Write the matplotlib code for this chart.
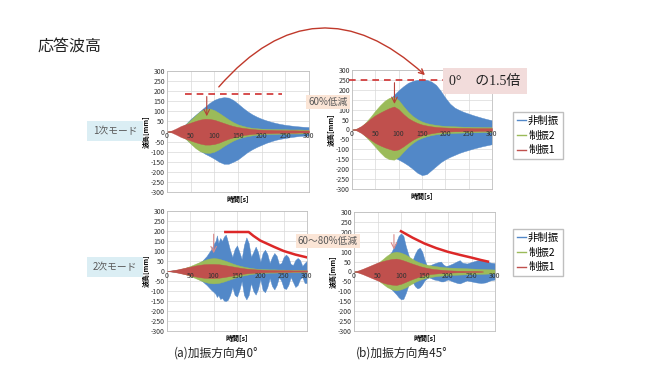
import matplotlib
matplotlib.use("Agg")
import matplotlib.pyplot as plt
from matplotlib.lines import Line2D
from matplotlib.patches import FancyArrowPatch

plt.rcParams['font.family'] = ['Noto Sans CJK JP', 'DejaVu Sans']

BLUE = '#5288c8'
GREEN = '#9bbb59'
RED = '#c0504d'
LINE_RED = '#dc2828'

# time grid (s) for the smooth envelopes
t10 = [0, 10, 20, 30, 40, 50, 60, 70, 80, 90, 100, 110, 120, 130, 140, 150,
       160, 170, 180, 190, 200, 210, 220, 230, 240, 250, 260, 270, 280, 290, 300]

# ---- 1次モード, 0deg ----
m1a_blue_up = [0, 3, 8, 18, 38, 62, 82, 102, 122, 142, 157, 166, 170, 168, 156, 138,
               118, 100, 85, 73, 63, 55, 48, 42, 37, 33, 30, 27, 25, 23, 22]
m1a_blue_lo = [0, -3, -8, -18, -36, -58, -78, -95, -110, -122, -135, -150, -160, -160, -150, -138,
               -120, -102, -88, -76, -66, -56, -48, -41, -36, -32, -28, -25, -22, -21, -20]
m1a_green_up = [0, 3, 10, 22, 36, 58, 80, 100, 112, 114, 106, 92, 76, 60, 46, 35,
                28, 22, 18, 16, 14, 13, 12, 12, 11, 11, 10, 10, 10, 9, 9]
m1a_green_lo = [0, -3, -10, -22, -38, -60, -82, -98, -105, -106, -100, -88, -72, -58, -45, -35,
                -28, -23, -19, -16, -14, -13, -12, -12, -11, -11, -10, -10, -10, -9, -9]
m1a_red_up = [0, 5, 16, 28, 36, 44, 52, 59, 63, 62, 58, 50, 42, 34, 27, 22,
              18, 15, 12, 10, 9, 8, 8, 7, 7, 6, 6, 6, 5, 5, 5]
m1a_red_lo = [0, -5, -16, -28, -36, -45, -53, -60, -65, -65, -62, -55, -45, -36, -29, -23,
              -18, -15, -12, -10, -9, -8, -8, -7, -7, -6, -6, -6, -5, -5, -5]

# ---- 1次モード, 45deg ----
m1b_blue_up = [0, 3, 12, 28, 50, 75, 100, 125, 150, 175, 198, 218, 235, 245, 250, 252,
               250, 242, 225, 195, 160, 130, 110, 98, 88, 80, 72, 65, 58, 52, 46]
m1b_blue_lo = [0, -3, -12, -28, -48, -70, -90, -108, -125, -140, -152, -165, -180, -198, -218, -230,
               -225, -205, -185, -165, -150, -138, -128, -118, -110, -103, -96, -90, -84, -79, -74]
m1b_green_up = [0, 4, 15, 38, 65, 95, 122, 145, 160, 165, 148, 118, 90, 68, 52, 40,
                32, 27, 23, 20, 18, 17, 16, 15, 14, 14, 13, 13, 12, 12, 12]
m1b_green_lo = [0, -4, -15, -38, -62, -88, -115, -138, -150, -152, -138, -112, -88, -68, -52, -42,
                -34, -28, -24, -21, -19, -18, -17, -16, -15, -15, -14, -14, -13, -13, -13]
m1b_red_up = [0, 5, 18, 35, 55, 72, 85, 97, 108, 116, 102, 78, 58, 44, 33, 25,
              20, 16, 13, 11, 10, 9, 9, 8, 8, 8, 7, 7, 7, 7, 7]
m1b_red_lo = [0, -5, -18, -35, -52, -68, -80, -90, -98, -105, -100, -85, -68, -52, -40, -30,
              -24, -19, -15, -13, -11, -10, -9, -9, -8, -8, -8, -7, -7, -7, -7]

# ---- 2次モード, 0deg ----
m2a_blue_t = [0, 20, 40, 60, 75, 85, 95, 100, 104, 107, 110, 114, 118, 122, 126, 130, 135, 140,
              145, 150, 155, 160, 165, 170, 175, 180, 185, 190, 195, 200, 205, 210, 215, 220,
              225, 230, 235, 240, 245, 250, 255, 260, 265, 270, 275, 280, 285, 290, 295, 300]
m2a_blue_up = [0, 5, 12, 28, 50, 75, 110, 135, 150, 178, 140, 165, 150, 172, 182, 150, 105, 70,
               110, 128, 95, 60, 130, 168, 140, 70, 95, 122, 95, 45, 90, 106, 85, 40,
               70, 90, 75, 35, 40, 70, 82, 70, 35, 30, 55, 65, 55, 25, 40, 52]
m2a_blue_lo = [0, -5, -12, -28, -50, -70, -95, -105, -115, -130, -120, -140, -135, -148, -150, -145, -120, -80,
               -120, -128, -95, -50, -120, -142, -120, -60, -100, -118, -90, -40, -95, -106, -80, -35,
               -75, -92, -70, -30, -50, -85, -90, -70, -30, -55, -80, -70, -40, -30, -60, -60]
m2a_green_up = [0, 2, 5, 10, 17, 25, 35, 45, 55, 62, 65, 62, 55, 47, 38, 30,
                24, 19, 15, 12, 10, 9, 8, 8, 7, 7, 6, 6, 6, 5, 5]
m2a_green_lo = [0, -2, -5, -10, -17, -25, -35, -45, -54, -60, -62, -60, -54, -46, -38, -30,
                -24, -19, -15, -12, -10, -9, -8, -8, -7, -7, -6, -6, -6, -5, -5]
m2a_red_up = [0, 3, 7, 12, 17, 22, 27, 31, 34, 35, 35, 34, 31, 27, 23, 19,
              15, 12, 10, 8, 7, 6, 5, 5, 4, 4, 4, 3, 3, 3, 3]
m2a_red_lo = [0, -3, -7, -12, -17, -22, -27, -31, -34, -35, -35, -34, -31, -27, -23, -19,
              -15, -12, -10, -8, -7, -6, -5, -5, -4, -4, -4, -3, -3, -3, -3]
m2a_peak_t = [125, 175, 185, 200, 215, 230, 250, 275, 300]
m2a_peak_v = [195, 195, 176, 152, 136, 120, 100, 82, 68]

# ---- 2次モード, 45deg ----
m2b_blue_t = [0, 25, 50, 60, 70, 80, 90, 95, 100, 105, 110, 115, 120, 125, 130, 135, 140, 145,
              150, 155, 160, 170, 180, 185, 190, 195, 200, 210, 220, 225, 230, 240, 250, 260,
              270, 280, 290, 300]
m2b_blue_up = [0, 10, 30, 45, 70, 100, 150, 180, 192, 180, 130, 90, 55, 60, 90, 112, 120, 100,
               60, 30, 30, 40, 48, 50, 35, 28, 30, 40, 52, 57, 45, 40, 48, 55,
               60, 55, 45, 42]
m2b_blue_lo = [0, -10, -30, -45, -65, -90, -115, -130, -140, -138, -110, -75, -45, -55, -75, -85, -80, -65,
               -45, -35, -30, -40, -45, -50, -50, -45, -40, -50, -58, -60, -55, -45, -50, -55,
               -58, -55, -45, -40]
m2b_green_up = [0, 4, 12, 22, 32, 42, 60, 80, 95, 100, 95, 85, 70, 55, 45, 37,
                32, 28, 25, 22, 20, 19, 18, 17, 16, 15, 14, 13, 12, 11, 10]
m2b_green_lo = [0, -4, -12, -22, -32, -42, -60, -78, -90, -95, -90, -80, -66, -52, -42, -34,
                -29, -25, -22, -20, -18, -17, -16, -15, -14, -13, -12, -12, -11, -10, -10]
m2b_red_t = [0, 10, 20, 30, 40, 50, 60, 70, 80, 90, 100, 110, 120, 130, 140, 150,
             160, 170, 180, 190, 200, 210, 220, 230, 240, 250, 260, 270, 275]
m2b_red_up = [0, 6, 15, 25, 35, 45, 52, 58, 63, 65, 60, 52, 43, 35, 27, 21,
              16, 12, 10, 8, 6, 5, 4, 4, 3, 3, 3, 2, 0]
m2b_red_lo = [0, -6, -15, -25, -35, -45, -55, -62, -66, -68, -62, -52, -42, -33, -25, -19,
              -14, -11, -9, -7, -6, -5, -4, -4, -3, -3, -3, -2, 0]
m2b_peak_t = [100, 125, 150, 175, 200, 225, 250, 270, 285]
m2b_peak_v = [203, 170, 141, 118, 99, 84, 70, 58, 50]

x_ticks = [0, 50, 100, 150, 200, 250, 300]
y_ticks = [300, 250, 200, 150, 100, 50, 0, -50, -100, -150, -200, -250, -300]

fig = plt.figure(figsize=(6.5, 3.66), dpi=100)
fig.patch.set_facecolor('white')


def panel(rect, blue, green, red):
    ax = fig.add_axes(rect)
    ax.set_axisbelow(True)
    ax.fill_between(blue[0], blue[1], blue[2], color=BLUE, lw=0.3, zorder=1)
    ax.fill_between(green[0], green[1], green[2], color=GREEN, lw=0.3, zorder=2)
    ax.fill_between(red[0], red[1], red[2], color=RED, lw=0.3, zorder=3)
    ax.set_xlim(0, 300)
    ax.set_ylim(-300, 300)
    ax.set_xticks(x_ticks)
    ax.set_yticks(y_ticks)
    ax.set_xticklabels([])
    ax.set_yticklabels([str(v) for v in y_ticks])
    ax.tick_params(axis='both', length=0, labelsize=5, pad=1.5, labelcolor='#333333')
    ax.grid(True, color='#d9d9d9', lw=0.5)
    for s in ax.spines.values():
        s.set_color('#bfbfbf')
        s.set_linewidth(0.6)
    ax.axhline(0, color='#868686', lw=0.6, zorder=0.8)
    for v in x_ticks:
        ax.text(v, -4, str(v), ha='center', va='top', fontsize=5, color='#333333', zorder=6)
    ax.set_ylabel('波高[mm]', fontsize=5, fontweight='bold', labelpad=1)
    ax.text(0.5, -0.035, '時間[s]', transform=ax.transAxes, ha='center', va='top',
            fontsize=5, fontweight='bold')
    return ax


ax1 = panel([167 / 650, 1 - 192 / 366, 142 / 650, 121 / 366],
            (t10, m1a_blue_up, m1a_blue_lo), (t10, m1a_green_up, m1a_green_lo),
            (t10, m1a_red_up, m1a_red_lo))
ax2 = panel([352 / 650, 1 - 189 / 366, 140 / 650, 119 / 366],
            (t10, m1b_blue_up, m1b_blue_lo), (t10, m1b_green_up, m1b_green_lo),
            (t10, m1b_red_up, m1b_red_lo))
ax3 = panel([167 / 650, 1 - 331 / 366, 140 / 650, 120 / 366],
            (m2a_blue_t, m2a_blue_up, m2a_blue_lo), (t10, m2a_green_up, m2a_green_lo),
            (t10, m2a_red_up, m2a_red_lo))
ax4 = panel([354 / 650, 1 - 331 / 366, 141 / 650, 119 / 366],
            (m2b_blue_t, m2b_blue_up, m2b_blue_lo), (t10, m2b_green_up, m2b_green_lo),
            (m2b_red_t, m2b_red_up, m2b_red_lo))

# annotations in the panels
ax1.plot([38, 242], [187, 187], ls=(0, (4, 3)), color='#d03030', lw=1.2, zorder=5)
ax1.annotate('', xy=(84, 62), xytext=(84, 187),
             arrowprops=dict(arrowstyle='->', color='#b5403a', lw=0.8), zorder=6)
ax2.plot([-6, 210], [250, 250], ls=(0, (4, 3)), color='#d03030', lw=1.2, zorder=5, clip_on=False)
ax2.annotate('', xy=(91, 115), xytext=(91, 250),
             arrowprops=dict(arrowstyle='->', color='#b5403a', lw=0.8), zorder=6)
ax3.plot(m2a_peak_t, m2a_peak_v, color=LINE_RED, lw=1.8, zorder=5)
ax3.annotate('', xy=(100, 75), xytext=(100, 198),
             arrowprops=dict(arrowstyle='->', color='#d98a8a', lw=0.8), zorder=6)
ax4.plot(m2b_peak_t, m2b_peak_v, color=LINE_RED, lw=1.8, zorder=5)
ax4.annotate('', xy=(85, 97), xytext=(85, 200),
             arrowprops=dict(arrowstyle='->', color='#d98a8a', lw=0.8), zorder=6)

# big curved arrow between the top panels
fig.patches.append(FancyArrowPatch((217 / 650, 1 - 89 / 366), (427 / 650, 1 - 77 / 366),
                                   transform=fig.transFigure, connectionstyle='arc3,rad=-0.52',
                                   arrowstyle='->', mutation_scale=9, color='#c0392b', lw=1.0))

# legends
handles = [Line2D([], [], color=BLUE, lw=1), Line2D([], [], color=GREEN, lw=1),
           Line2D([], [], color=RED, lw=1)]
labels = ['非制振', '制振2', '制振1']
for top in (112, 229):
    fig.legend(handles, labels, loc='upper left', bbox_to_anchor=(513 / 650, 1 - top / 366),
               fontsize=7.5, handlelength=0.9, handletextpad=0.2, borderpad=0.35,
               labelspacing=0.45, frameon=True, fancybox=False, edgecolor='#bfbfbf',
               framealpha=1, borderaxespad=0)

# text boxes
fig.text(328 / 650, 1 - 102 / 366, '60%低減', ha='center', va='center', fontsize=7,
         color='#595959', zorder=10,
         bbox=dict(boxstyle='square,pad=0.25', fc='#fbe5d6', ec='none'))
fig.text(328 / 650, 1 - 241 / 366, '60〜80%低減', ha='center', va='center', fontsize=7,
         color='#595959', zorder=10,
         bbox=dict(boxstyle='square,pad=0.25', fc='#fbe5d6', ec='none'))
fig.text(485 / 650, 1 - 81 / 366, '0°　の1.5倍', ha='center', va='center', fontsize=10,
         family=['Liberation Serif', 'Noto Sans CJK JP'], color='#222222', zorder=10,
         bbox=dict(boxstyle='square,pad=0.45', fc='#f2dcdb', ec='none'))
fig.text(115 / 650, 1 - 131 / 366, '1次モード', ha='center', va='center', fontsize=7,
         color='#595959', bbox=dict(boxstyle='square,pad=0.55', fc='#dbeef4', ec='none'))
fig.text(115 / 650, 1 - 267 / 366, '2次モード', ha='center', va='center', fontsize=7,
         color='#595959', bbox=dict(boxstyle='square,pad=0.55', fc='#dbeef4', ec='none'))

fig.text(37 / 650, 1 - 47 / 366, '応答波高', ha='left', va='center', fontsize=11.5, color='#222222')
fig.text(216 / 650, 1 - 353 / 366, '(a)加振方向角0°', ha='center', va='center', fontsize=8.5,
         color='#222222')
fig.text(402 / 650, 1 - 353 / 366, '(b)加振方向角45°', ha='center', va='center', fontsize=8.5,
         color='#222222')

fig.savefig('out.png', dpi=100, facecolor='white')
